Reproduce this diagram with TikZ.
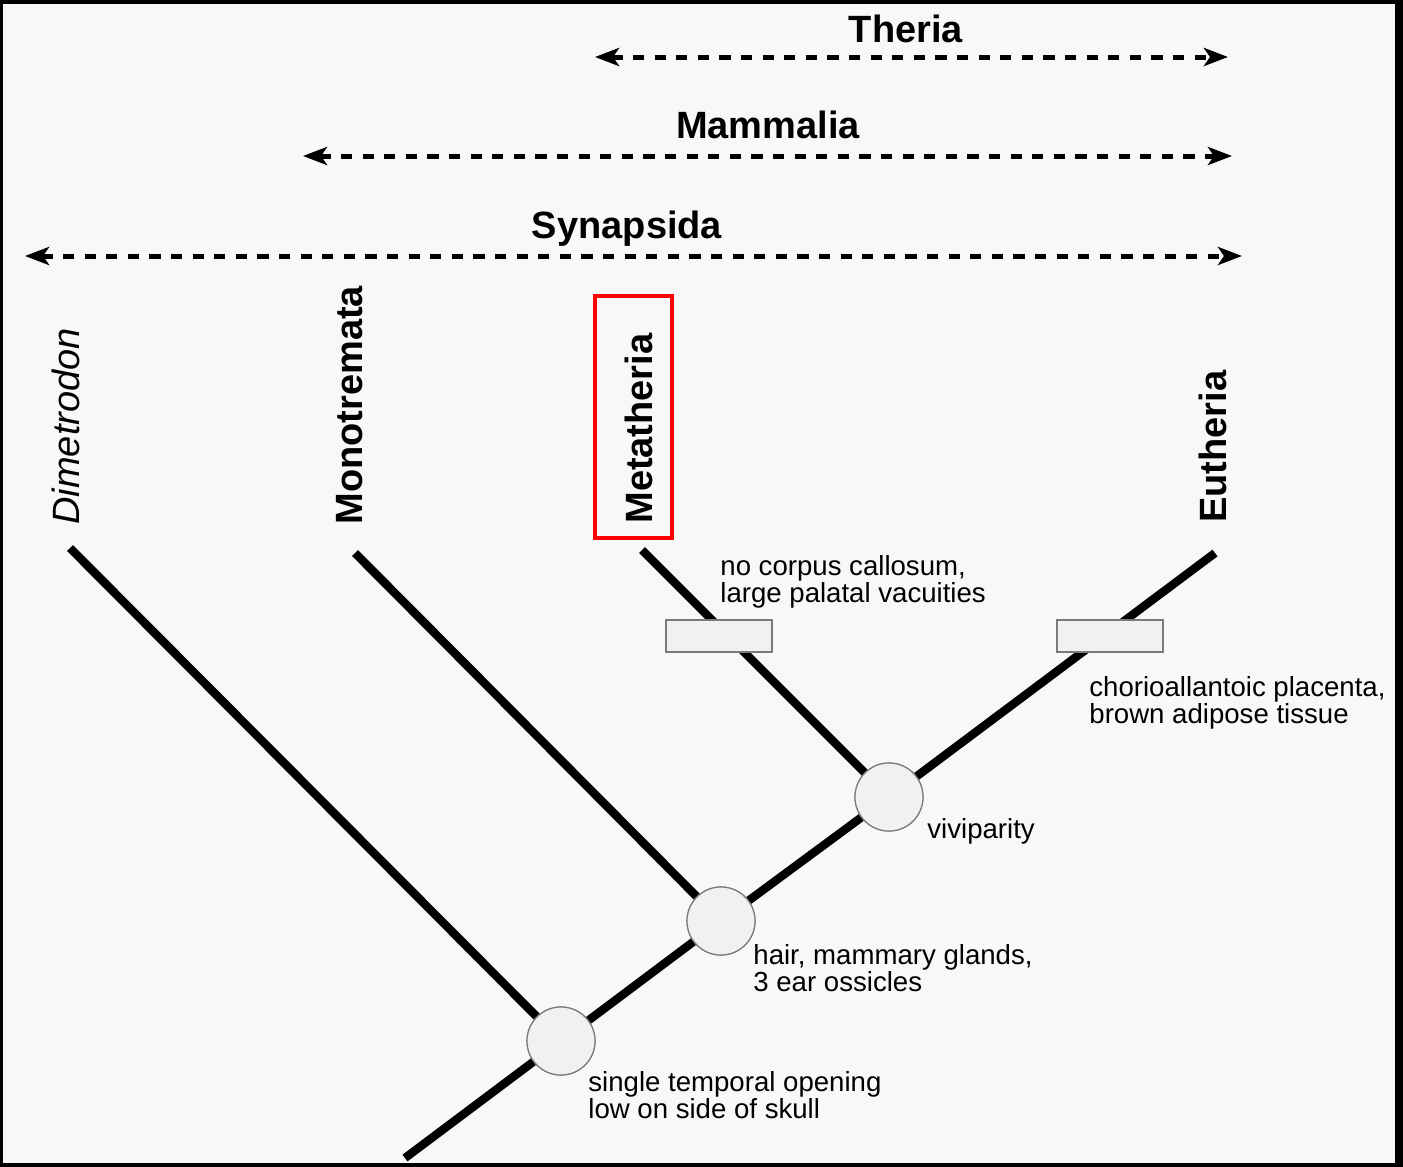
\documentclass[tikz,border=0pt]{standalone}
\usepackage{fontspec}
\setmainfont{Liberation Sans}
\usetikzlibrary{arrows.meta}
\definecolor{bg}{HTML}{F8F8F8}
\definecolor{nodefill}{HTML}{F1F1F1}
\definecolor{nodeline}{HTML}{7A7A7A}
\begin{document}
\begin{tikzpicture}[x=0.5pt,y=-0.5pt,
  branch/.style={line width=4.2pt},
  clade/.style={line width=2.5pt, dash pattern=on 5.6pt off 5.2pt, {Stealth[length=12pt,width=9pt,inset=3pt]}-{Stealth[length=12pt,width=9pt,inset=3pt]}},
  cladelabel/.style={anchor=base, inner sep=0pt, font=\fontsize{19}{19}\selectfont\bfseries},
  taxon/.style={rotate=90, anchor=base west, inner sep=0pt, font=\fontsize{19}{19}\selectfont\bfseries},
  note/.style={anchor=base west, align=left, inner sep=0pt, font=\fontsize{13.8}{13.5}\selectfont},
  apo/.style={circle, draw=nodeline, line width=0.6pt, fill=nodefill, minimum size=34pt, inner sep=0pt},
  bar/.style={rectangle, draw=nodeline, line width=0.6pt, fill=nodefill, minimum width=53pt, minimum height=16pt, inner sep=0pt}
]
% frame and background
\fill[black] (0,0) rectangle (1403,1167);
\fill[bg] (3,4) rectangle (1395,1163);
\useasboundingbox (0,0) rectangle (1403,1167);

% clade ranges
\coordinate (thL) at (595,57);  \coordinate (thR) at (1228,57);
\coordinate (maL) at (303,156); \coordinate (maR) at (1232,156);
\coordinate (syL) at (25,256);  \coordinate (syR) at (1242,256);
\draw[clade] (thL) -- (thR);
\draw[clade] (maL) -- (maR);
\draw[clade] (syL) -- (syR);
\node[cladelabel] (theria) at (906,42) {Theria};
\node[cladelabel] (mammalia) at (768,138) {Mammalia};
\node[cladelabel] (synapsida) at (627,238) {Synapsida};

% taxon labels
\node[taxon, font=\fontsize{19}{19}\selectfont\itshape] (dime) at (79,525) {Dimetrodon};
\node[taxon] (mono) at (362,525) {Monotremata};
\node[taxon] (meta) at (652,524) {Metatheria};
\node[taxon] (euth) at (1226,523) {Eutheria};
\draw[red, line width=2pt] (595,296) rectangle (672,538);

% tree
\coordinate (root) at (405,1158);
\coordinate (tDime) at (70,548);
\coordinate (tMono) at (355,553);
\coordinate (tMeta) at (642,550);
\coordinate (tEuth) at (1215,553);
\node[apo] (c1) at (561,1041) {};
\node[apo] (c2) at (721,921) {};
\node[apo] (c3) at (889,797) {};
\draw[branch] (root) -- (c1);
\draw[branch] (c1) -- (c2);
\draw[branch] (c2) -- (c3);
\draw[branch] (c3) -- (tEuth);
\draw[branch] (c1) -- (tDime);
\draw[branch] (c2) -- (tMono);
\draw[branch] (c3) -- (tMeta);
\node[apo] at (c1) {};
\node[apo] at (c2) {};
\node[apo] at (c3) {};

% character bars
\node[bar] (bMeta) at (719,636) {};
\node[bar] (bEuth) at (1110,636) {};

% character notes (anchor at baseline of the last line)
\node[note] (nMeta) at (720,602) {no corpus callosum,\\large palatal vacuities};
\node[note] (nEuth) at (1089,723) {chorioallantoic placenta,\\brown adipose tissue};
\node[note] (nVivi) at (927,838) {viviparity};
\node[note] (nMamm) at (753,991) {hair, mammary glands,\\3 ear ossicles};
\node[note] (nSyn) at (588,1118) {single temporal opening\\low on side of skull};
\end{tikzpicture}
\end{document}
